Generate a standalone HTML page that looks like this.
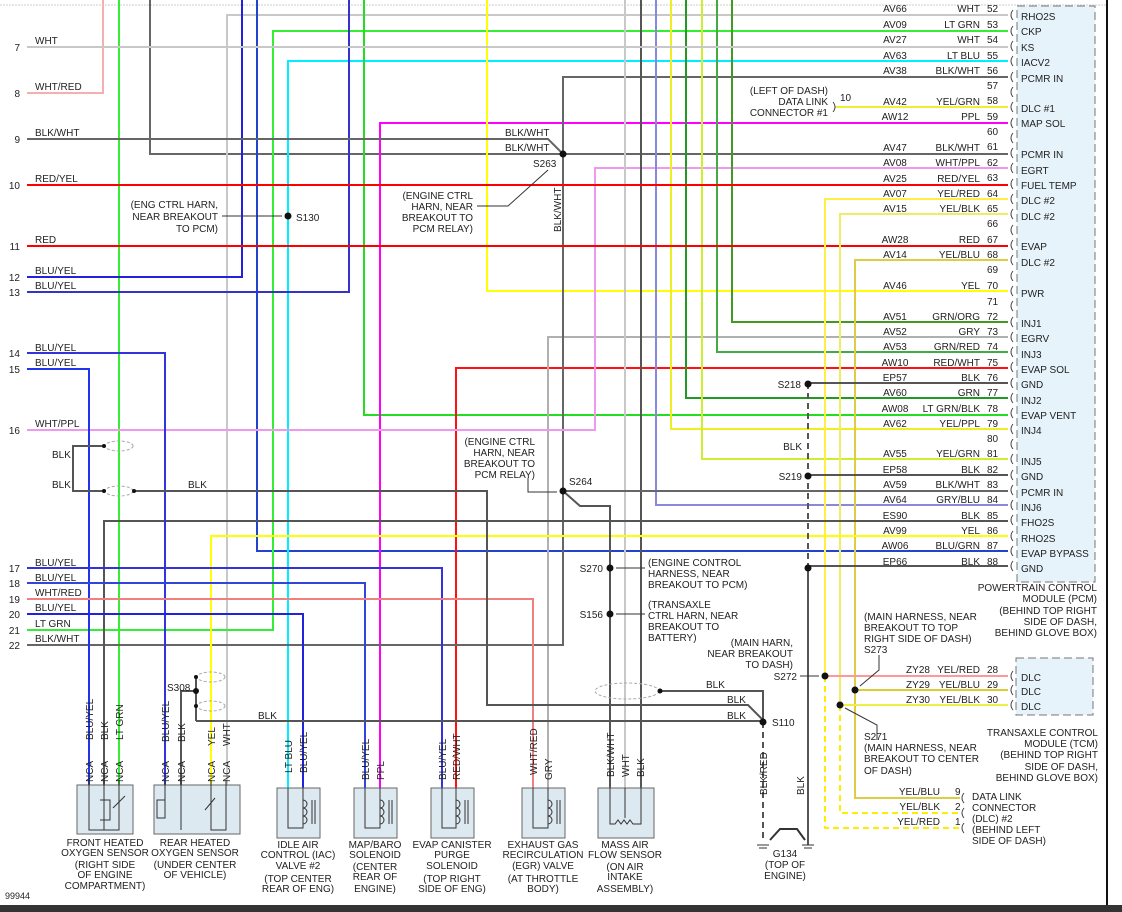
<!DOCTYPE html>
<html><head><meta charset="utf-8"><style>
html,body{margin:0;padding:0;background:#fff}
svg{display:block}
text{font-family:"Liberation Sans",Arial,sans-serif;font-size:10px;fill:#222}
.r{text-anchor:end}.m{text-anchor:middle}
</style></head><body>
<svg width="1122" height="912" viewBox="0 0 1122 912" xmlns="http://www.w3.org/2000/svg">
<rect width="1122" height="912" fill="#fff"/>
<line x1="0" y1="5" x2="1107" y2="5" stroke="#ccc" stroke-dasharray="2,1"/>
<!-- PCM box -->
<rect x="1017" y="6" width="78" height="576" fill="#e6f3fa" stroke="#777" stroke-dasharray="8,4"/>
<line x1="1107" y1="0" x2="1107" y2="905" stroke="#111" stroke-width="2"/>
<rect x="0" y="905" width="1122" height="7" fill="#333"/>
<g fill="none" stroke-width="2">
<!-- verticals from top -->
<polyline points="103,0 103,93 27,93" stroke="#f4b0b0"/>
<polyline points="119,0 119,785" stroke="#33ee33"/>
<polyline points="150,0 150,154 1008,154" stroke="#666"/>
<polyline points="1008,15 227,15 227,785" stroke="#c8c8c8"/>
<polyline points="242,0 242,277 27,277" stroke="#2222dd"/>
<polyline points="257,0 257,551 1008,551" stroke="#2244cc"/>
<polyline points="1008,31 273,31 273,630 27,630" stroke="#33ee33"/>
<polyline points="1008,61 288,61 288,788" stroke="#00eeff"/>
<polyline points="349,0 349,292 27,292" stroke="#3333cc"/>
<polyline points="364,0 364,415 1008,415" stroke="#22dd22"/>
<polyline points="1008,123 380,123 380,788" stroke="#ff00ff"/>
<polyline points="1008,368 456,368 456,788" stroke="#ff1111"/>
<polyline points="1008,337 548,337 548,788" stroke="#b0b0b0"/>
<polyline points="487,0 487,291 1008,291" stroke="#ffff00"/>
<polyline points="1008,77 563,77 563,645 27,645" stroke="#666"/>
<polyline points="1008,168 595,168 595,430 27,430" stroke="#ee99ee"/>
<polyline points="625,0 625,788" stroke="#c8c8c8"/>
<polyline points="641,0 641,788" stroke="#555"/>
<polyline points="656,0 656,505 1008,505" stroke="#8888dd"/>
<polyline points="671,0 671,429 1008,429" stroke="#eeee22"/>
<polyline points="686,0 686,398 1008,398" stroke="#229922"/>
<polyline points="702,0 702,459 1008,459" stroke="#ccee33"/>
<polyline points="717,0 717,352 1008,352" stroke="#44aa44"/>
<polyline points="732,0 732,322 1008,322" stroke="#449922"/>
<polyline points="27,47 1008,47" stroke="#c8c8c8"/>
<polyline points="27,139 548,139 563,154" stroke="#666"/>
<polyline points="27,185 1008,185" stroke="#ff0000"/>
<polyline points="27,246 1008,246" stroke="#ff0000"/>
<polyline points="835,107 1008,107" stroke="#eeee33"/>
<polyline points="1008,199 825,199 825,676" stroke="#ffee44"/>
<polyline points="1008,214 840,214 840,705" stroke="#eeee66"/>
<polyline points="1008,260 855,260 855,798 960,798" stroke="#ddcc44"/>
<polyline points="808,383 1008,383" stroke="#555"/>
<polyline points="808,475 1008,475" stroke="#555"/>
<polyline points="563,491 1008,491" stroke="#666"/>
<polyline points="808,566 1008,566" stroke="#555"/>
<polyline points="1008,521 104,521 104,785" stroke="#555"/>
<polyline points="1008,536 211,536 211,785" stroke="#ffff00"/>
<polyline points="27,353 165,353 165,785" stroke="#3333dd"/>
<polyline points="27,369 89,369 89,785" stroke="#2233ee"/>
<polyline points="27,568 442,568 442,788" stroke="#3333dd"/>
<polyline points="27,583 365,583 365,788" stroke="#3344dd"/>
<polyline points="27,599 533,599 533,788" stroke="#f08080"/>
<polyline points="27,614 303,614 303,788" stroke="#2222dd"/>
<polyline points="563,491 580,506 610,506 610,788" stroke="#555"/>
<polyline points="134,491 487,491 487,705 748,705 763,720" stroke="#555"/>
<polyline points="660,691 763,691 763,722" stroke="#555"/>
<polyline points="196,721 763,721" stroke="#555"/>
<polyline points="196,677 196,721" stroke="#555"/>
<polyline points="181,785 181,691 196,691" stroke="#555"/>
<polyline points="104,446 73,446 73,491 104,491" stroke="#555"/>
<polyline points="808,566 808,845" stroke="#555"/>
<polyline points="825,676 1008,676" stroke="#ff9999"/>
<polyline points="855,690 1008,690" stroke="#ddcc33"/>
<polyline points="840,705 1008,705" stroke="#eeee44"/>
</g>
<g fill="none" stroke-width="2" stroke-dasharray="6,4">
<polyline points="808,383 808,566" stroke="#555"/>
<polyline points="763,722 763,840" stroke="#555"/>
<polyline points="825,676 825,828 960,828" stroke="#ffee00"/>
<polyline points="840,705 840,813 960,813" stroke="#ffee00"/>
</g>
<!-- ground -->
<polyline points="770,840 780,829 797,829 805,840" fill="none" stroke="#333" stroke-width="2"/>
<g stroke="#333"><line x1="757" y1="845" x2="769" y2="845"/><line x1="759" y1="848" x2="767" y2="848"/><line x1="802" y1="845" x2="814" y2="845"/><line x1="804" y1="848" x2="812" y2="848"/></g>
<!-- shields -->
<g fill="none" stroke="#aaa" stroke-dasharray="3,2">
<ellipse cx="119" cy="446" rx="14" ry="5"/><ellipse cx="119" cy="491" rx="14" ry="5"/>
<ellipse cx="211" cy="677" rx="14" ry="5"/><ellipse cx="211" cy="706" rx="14" ry="5"/>
<ellipse cx="627" cy="691" rx="32" ry="8"/>
</g>
<!-- dots -->
<g fill="#111">
<circle cx="288" cy="216" r="3.5"/><circle cx="563" cy="154" r="3.5"/><circle cx="563" cy="491" r="3.5"/>
<circle cx="610" cy="568" r="3.5"/><circle cx="610" cy="614" r="3.5"/><circle cx="808" cy="384" r="3.5"/>
<circle cx="808" cy="476" r="3.5"/><circle cx="808" cy="568" r="3.5"/><circle cx="763" cy="722" r="3.5"/>
<circle cx="825" cy="676" r="3.5"/><circle cx="855" cy="690" r="3.5"/><circle cx="840" cy="705" r="3.5"/>
<circle cx="196" cy="691" r="3"/><circle cx="196" cy="677" r="2"/><circle cx="196" cy="706" r="2"/>
<circle cx="104" cy="446" r="2"/><circle cx="104" cy="491" r="2"/><circle cx="134" cy="491" r="2"/><circle cx="660" cy="691" r="2.5"/>
</g>
<!-- arrows -->
<g stroke="#333" fill="none">
<polyline points="222,216 282,216"/><polyline points="477,206 508,206 548,170"/>
<polyline points="528,478 528,492 557,492"/><polyline points="645,568 616,568"/><polyline points="645,614 616,614"/>
<polyline points="800,676 819,676"/><polyline points="879,655 879,670 860,686"/><polyline points="877,740 877,725 845,708"/>
</g>
<!-- PCM connectors & labels -->
<g fill="none" stroke="#444">
<path d="M1013,10 q-4,5 0,10 M1013,26 q-4,5 0,10 M1013,41 q-4,5 0,10 M1013,56 q-4,5 0,10 M1013,72 q-4,5 0,10 M1013,87 q-4,5 0,10 M1013,102 q-4,5 0,10 M1013,118 q-4,5 0,10 M1013,133 q-4,5 0,10 M1013,148 q-4,5 0,10 M1013,163 q-4,5 0,10 M1013,179 q-4,5 0,10 M1013,194 q-4,5 0,10 M1013,209 q-4,5 0,10 M1013,225 q-4,5 0,10 M1013,240 q-4,5 0,10 M1013,255 q-4,5 0,10 M1013,271 q-4,5 0,10 M1013,286 q-4,5 0,10 M1013,301 q-4,5 0,10 M1013,317 q-4,5 0,10 M1013,332 q-4,5 0,10 M1013,347 q-4,5 0,10 M1013,362 q-4,5 0,10 M1013,378 q-4,5 0,10 M1013,393 q-4,5 0,10 M1013,408 q-4,5 0,10 M1013,424 q-4,5 0,10 M1013,439 q-4,5 0,10 M1013,454 q-4,5 0,10 M1013,470 q-4,5 0,10 M1013,485 q-4,5 0,10 M1013,500 q-4,5 0,10 M1013,515 q-4,5 0,10 M1013,531 q-4,5 0,10 M1013,546 q-4,5 0,10 M1013,561 q-4,5 0,10"/>
<path d="M1013,671 q-4,5 0,10 M1013,685 q-4,5 0,10 M1013,700 q-4,5 0,10 M964,793 q-4,5 0,10 M964,808 q-4,5 0,10 M964,823 q-4,5 0,10 M833,102 q4,5 0,10"/>
</g>
<rect x="1016" y="658" width="77" height="57" fill="#e6f3fa" stroke="#777" stroke-dasharray="8,4"/>
<g>
<text x="895" y="12" class="m">AV66</text><text x="980" y="12" class="r">WHT</text><text x="987" y="12">52</text><text x="1021" y="20">RHO2S</text>
<text x="895" y="28" class="m">AV09</text><text x="980" y="28" class="r">LT GRN</text><text x="987" y="28">53</text><text x="1021" y="35">CKP</text>
<text x="895" y="43" class="m">AV27</text><text x="980" y="43" class="r">WHT</text><text x="987" y="43">54</text><text x="1021" y="51">KS</text>
<text x="895" y="59" class="m">AV63</text><text x="980" y="59" class="r">LT BLU</text><text x="987" y="59">55</text><text x="1021" y="66">IACV2</text>
<text x="895" y="74" class="m">AV38</text><text x="980" y="74" class="r">BLK/WHT</text><text x="987" y="74">56</text><text x="1021" y="82">PCMR IN</text>
<text x="987" y="89">57</text>
<text x="895" y="105" class="m">AV42</text><text x="980" y="105" class="r">YEL/GRN</text><text x="987" y="104">58</text><text x="1021" y="112">DLC #1</text>
<text x="895" y="120" class="m">AW12</text><text x="980" y="120" class="r">PPL</text><text x="987" y="120">59</text><text x="1021" y="127">MAP SOL</text>
<text x="987" y="135">60</text>
<text x="895" y="151" class="m">AV47</text><text x="980" y="151" class="r">BLK/WHT</text><text x="987" y="150">61</text><text x="1021" y="158">PCMR IN</text>
<text x="895" y="166" class="m">AV08</text><text x="980" y="166" class="r">WHT/PPL</text><text x="987" y="166">62</text><text x="1021" y="174">EGRT</text>
<text x="895" y="182" class="m">AV25</text><text x="980" y="182" class="r">RED/YEL</text><text x="987" y="181">63</text><text x="1021" y="189">FUEL TEMP</text>
<text x="895" y="197" class="m">AV07</text><text x="980" y="197" class="r">YEL/RED</text><text x="987" y="197">64</text><text x="1021" y="204">DLC #2</text>
<text x="895" y="212" class="m">AV15</text><text x="980" y="212" class="r">YEL/BLK</text><text x="987" y="212">65</text><text x="1021" y="220">DLC #2</text>
<text x="987" y="227">66</text>
<text x="895" y="243" class="m">AW28</text><text x="980" y="243" class="r">RED</text><text x="987" y="243">67</text><text x="1021" y="250">EVAP</text>
<text x="895" y="258" class="m">AV14</text><text x="980" y="258" class="r">YEL/BLU</text><text x="987" y="258">68</text><text x="1021" y="266">DLC #2</text>
<text x="987" y="273">69</text>
<text x="895" y="289" class="m">AV46</text><text x="980" y="289" class="r">YEL</text><text x="987" y="289">70</text><text x="1021" y="297">PWR</text>
<text x="987" y="305">71</text>
<text x="895" y="320" class="m">AV51</text><text x="980" y="320" class="r">GRN/ORG</text><text x="987" y="320">72</text><text x="1021" y="327">INJ1</text>
<text x="895" y="335" class="m">AV52</text><text x="980" y="335" class="r">GRY</text><text x="987" y="335">73</text><text x="1021" y="342">EGRV</text>
<text x="895" y="350" class="m">AV53</text><text x="980" y="350" class="r">GRN/RED</text><text x="987" y="350">74</text><text x="1021" y="358">INJ3</text>
<text x="895" y="366" class="m">AW10</text><text x="980" y="366" class="r">RED/WHT</text><text x="987" y="366">75</text><text x="1021" y="373">EVAP SOL</text>
<text x="895" y="381" class="m">EP57</text><text x="980" y="381" class="r">BLK</text><text x="987" y="381">76</text><text x="1021" y="388">GND</text>
<text x="895" y="396" class="m">AV60</text><text x="980" y="396" class="r">GRN</text><text x="987" y="396">77</text><text x="1021" y="404">INJ2</text>
<text x="895" y="412" class="m">AW08</text><text x="980" y="412" class="r">LT GRN/BLK</text><text x="987" y="412">78</text><text x="1021" y="419">EVAP VENT</text>
<text x="895" y="427" class="m">AV62</text><text x="980" y="427" class="r">YEL/PPL</text><text x="987" y="427">79</text><text x="1021" y="434">INJ4</text>
<text x="987" y="442">80</text>
<text x="895" y="457" class="m">AV55</text><text x="980" y="457" class="r">YEL/GRN</text><text x="987" y="457">81</text><text x="1021" y="465">INJ5</text>
<text x="895" y="473" class="m">EP58</text><text x="980" y="473" class="r">BLK</text><text x="987" y="473">82</text><text x="1021" y="480">GND</text>
<text x="895" y="488" class="m">AV59</text><text x="980" y="488" class="r">BLK/WHT</text><text x="987" y="488">83</text><text x="1021" y="496">PCMR IN</text>
<text x="895" y="503" class="m">AV64</text><text x="980" y="503" class="r">GRY/BLU</text><text x="987" y="503">84</text><text x="1021" y="511">INJ6</text>
<text x="895" y="519" class="m">ES90</text><text x="980" y="519" class="r">BLK</text><text x="987" y="519">85</text><text x="1021" y="526">FHO2S</text>
<text x="895" y="534" class="m">AV99</text><text x="980" y="534" class="r">YEL</text><text x="987" y="534">86</text><text x="1021" y="542">RHO2S</text>
<text x="895" y="549" class="m">AW06</text><text x="980" y="549" class="r">BLU/GRN</text><text x="987" y="549">87</text><text x="1021" y="557">EVAP BYPASS</text>
<text x="895" y="565" class="m">EP66</text><text x="980" y="565" class="r">BLK</text><text x="987" y="565">88</text><text x="1021" y="572">GND</text>
<!-- left pins -->
<text x="20" y="51" class="r">7</text><text x="35" y="44">WHT</text>
<text x="20" y="97" class="r">8</text><text x="35" y="90">WHT/RED</text>
<text x="20" y="143" class="r">9</text><text x="35" y="136">BLK/WHT</text>
<text x="20" y="189" class="r">10</text><text x="35" y="182">RED/YEL</text>
<text x="20" y="250" class="r">11</text><text x="35" y="243">RED</text>
<text x="20" y="281" class="r">12</text><text x="35" y="274">BLU/YEL</text>
<text x="20" y="296" class="r">13</text><text x="35" y="289">BLU/YEL</text>
<text x="20" y="357" class="r">14</text><text x="35" y="351">BLU/YEL</text>
<text x="20" y="373" class="r">15</text><text x="35" y="366">BLU/YEL</text>
<text x="20" y="434" class="r">16</text><text x="35" y="427">WHT/PPL</text>
<text x="20" y="572" class="r">17</text><text x="35" y="566">BLU/YEL</text>
<text x="20" y="587" class="r">18</text><text x="35" y="581">BLU/YEL</text>
<text x="20" y="603" class="r">19</text><text x="35" y="596">WHT/RED</text>
<text x="20" y="618" class="r">20</text><text x="35" y="611">BLU/YEL</text>
<text x="20" y="634" class="r">21</text><text x="35" y="627">LT GRN</text>
<text x="20" y="649" class="r">22</text><text x="35" y="642">BLK/WHT</text>
<text x="52" y="458">BLK</text><text x="52" y="488">BLK</text><text x="188" y="488">BLK</text>
<!-- callouts -->
<text x="218" y="208" class="r">(ENG CTRL HARN,</text><text x="218" y="220" class="r">NEAR BREAKOUT</text><text x="218" y="232" class="r">TO PCM)</text><text x="296" y="221">S130</text>
<text x="505" y="136">BLK/WHT</text><text x="505" y="151">BLK/WHT</text><text x="533" y="167">S263</text>
<text x="473" y="199" class="r">(ENGINE CTRL</text><text x="473" y="210" class="r">HARN, NEAR</text><text x="473" y="221" class="r">BREAKOUT TO</text><text x="473" y="232" class="r">PCM RELAY)</text>
<text x="561" y="232" transform="rotate(-90 561 232)">BLK/WHT</text>
<text x="535" y="445" class="r">(ENGINE CTRL</text><text x="535" y="456" class="r">HARN, NEAR</text><text x="535" y="467" class="r">BREAKOUT TO</text><text x="535" y="478" class="r">PCM RELAY)</text><text x="569" y="485">S264</text>
<text x="603" y="572" class="r">S270</text><text x="648" y="566">(ENGINE CONTROL</text><text x="648" y="577">HARNESS, NEAR</text><text x="648" y="588">BREAKOUT TO PCM)</text>
<text x="603" y="618" class="r">S156</text><text x="648" y="608">(TRANSAXLE</text><text x="648" y="619">CTRL HARN, NEAR</text><text x="648" y="630">BREAKOUT TO</text><text x="648" y="641">BATTERY)</text>
<text x="828" y="94" class="r">(LEFT OF DASH)</text><text x="828" y="105" class="r">DATA LINK</text><text x="828" y="116" class="r">CONNECTOR #1</text><text x="840" y="101">10</text>
<text x="801" y="388" class="r">S218</text><text x="802" y="480" class="r">S219</text><text x="802" y="450" class="r">BLK</text>
<text x="1097" y="591" class="r">POWERTRAIN CONTROL</text><text x="1097" y="602" class="r">MODULE (PCM)</text><text x="1097" y="614" class="r">(BEHIND TOP RIGHT</text><text x="1097" y="625" class="r">SIDE OF DASH,</text><text x="1097" y="636" class="r">BEHIND GLOVE BOX)</text>
<text x="864" y="620">(MAIN HARNESS, NEAR</text><text x="864" y="631">BREAKOUT TO TOP</text><text x="864" y="642">RIGHT SIDE OF DASH)</text><text x="864" y="653">S273</text>
<text x="793" y="646" class="r">(MAIN HARN,</text><text x="793" y="657" class="r">NEAR BREAKOUT</text><text x="793" y="668" class="r">TO DASH)</text><text x="797" y="680" class="r">S272</text>
<text x="918" y="673" class="m">ZY28</text><text x="980" y="673" class="r">YEL/RED</text><text x="987" y="673">28</text><text x="1021" y="681">DLC</text>
<text x="918" y="688" class="m">ZY29</text><text x="980" y="688" class="r">YEL/BLU</text><text x="987" y="688">29</text><text x="1021" y="695">DLC</text>
<text x="918" y="703" class="m">ZY30</text><text x="980" y="703" class="r">YEL/BLK</text><text x="987" y="703">30</text><text x="1021" y="710">DLC</text>
<text x="864" y="740">S271</text><text x="864" y="751">(MAIN HARNESS, NEAR</text><text x="864" y="762">BREAKOUT TO CENTER</text><text x="864" y="774">OF DASH)</text>
<text x="1098" y="736" class="r">TRANSAXLE CONTROL</text><text x="1098" y="747" class="r">MODULE (TCM)</text><text x="1098" y="758" class="r">(BEHIND TOP RIGHT</text><text x="1098" y="770" class="r">SIDE OF DASH,</text><text x="1098" y="781" class="r">BEHIND GLOVE BOX)</text>
<text x="940" y="795" class="r">YEL/BLU</text><text x="955" y="795">9</text><text x="940" y="810" class="r">YEL/BLK</text><text x="955" y="810">2</text><text x="940" y="825" class="r">YEL/RED</text><text x="955" y="825">1</text>
<text x="972" y="800">DATA LINK</text><text x="972" y="811">CONNECTOR</text><text x="972" y="822">(DLC) #2</text><text x="972" y="833">(BEHIND LEFT</text><text x="972" y="844">SIDE OF DASH)</text>
<text x="706" y="688">BLK</text><text x="727" y="703">BLK</text><text x="727" y="719">BLK</text><text x="258" y="719">BLK</text><text x="772" y="726">S110</text>
<text x="767" y="795" transform="rotate(-90 767 795)">BLK/RED</text><text x="804" y="795" transform="rotate(-90 804 795)">BLK</text>
<text x="785" y="857" class="m">G134</text><text x="785" y="868" class="m">(TOP OF</text><text x="785" y="879" class="m">ENGINE)</text>
<text x="167" y="691">S308</text>
<text x="5" y="899" style="font-size:9px">99944</text>
</g>
<!-- components -->
<g fill="#dde9f0" stroke="#666">
<rect x="77" y="785" width="56" height="49"/><rect x="154" y="785" width="86" height="49"/>
<rect x="277" y="788" width="43" height="50"/><rect x="354" y="788" width="43" height="50"/>
<rect x="431" y="788" width="43" height="50"/><rect x="522" y="788" width="43" height="50"/>
<rect x="598" y="788" width="56" height="50"/>
</g>
<g fill="none" stroke="#333">
<path d="M89,780v50h30v-50 M104,780v50 M113,808l12,-12 M100,800h10v20h-10"/>
<path d="M165,780v38h-8v-18h8 M181,780v50 M211,780v50h15v-50 M205,810l10,-12"/>
<path d="M288,788v40h15v-40 M303,800 a4,4 0 0 1 0,8 a4,4 0 0 1 0,8 a4,4 0 0 1 0,8 M312,800v24 M315,800v24"/>
<path d="M365,788v40h15v-40 M380,800 a4,4 0 0 1 0,8 a4,4 0 0 1 0,8 a4,4 0 0 1 0,8 M389,800v24 M392,800v24"/>
<path d="M442,788v40h14v-40 M456,800 a4,4 0 0 1 0,8 a4,4 0 0 1 0,8 a4,4 0 0 1 0,8 M465,800v24 M468,800v24"/>
<path d="M533,788v40h15v-40 M548,800 a4,4 0 0 1 0,8 a4,4 0 0 1 0,8 a4,4 0 0 1 0,8 M557,800v24 M560,800v24"/>
<path d="M610,788v36h5l3,-4 3,4 3,-4 3,4 3,-4 3,4h8v-36 M625,788v30"/>
</g>
<g style="font-size:9px">
<text x="93" y="740" transform="rotate(-90 93 740)">BLU/YEL</text><text x="108" y="740" transform="rotate(-90 108 740)">BLK</text><text x="123" y="740" transform="rotate(-90 123 740)">LT GRN</text>
<text x="93" y="782" transform="rotate(-90 93 782)">NCA</text><text x="108" y="782" transform="rotate(-90 108 782)">NCA</text><text x="123" y="782" transform="rotate(-90 123 782)">NCA</text>
<text x="169" y="742" transform="rotate(-90 169 742)">BLU/YEL</text><text x="185" y="742" transform="rotate(-90 185 742)">BLK</text><text x="215" y="746" transform="rotate(-90 215 746)">YEL</text><text x="230" y="746" transform="rotate(-90 230 746)">WHT</text>
<text x="169" y="782" transform="rotate(-90 169 782)">NCA</text><text x="185" y="782" transform="rotate(-90 185 782)">NCA</text><text x="215" y="782" transform="rotate(-90 215 782)">NCA</text><text x="230" y="782" transform="rotate(-90 230 782)">NCA</text>
<text x="292" y="773" transform="rotate(-90 292 773)">LT BLU</text><text x="307" y="773" transform="rotate(-90 307 773)">BLU/YEL</text>
<text x="369" y="780" transform="rotate(-90 369 780)">BLU/YEL</text><text x="384" y="780" transform="rotate(-90 384 780)">PPL</text>
<text x="446" y="780" transform="rotate(-90 446 780)">BLU/YEL</text><text x="460" y="780" transform="rotate(-90 460 780)">RED/WHT</text>
<text x="537" y="775" transform="rotate(-90 537 775)">WHT/RED</text><text x="552" y="780" transform="rotate(-90 552 780)">GRY</text>
<text x="614" y="777" transform="rotate(-90 614 777)">BLK/WHT</text><text x="629" y="777" transform="rotate(-90 629 777)">WHT</text><text x="644" y="777" transform="rotate(-90 644 777)">BLK</text>
</g>
<g class="m">
<text x="105" y="846" class="m">FRONT HEATED</text><text x="105" y="856" class="m">OXYGEN SENSOR</text><text x="105" y="868" class="m">(RIGHT SIDE</text><text x="105" y="878" class="m">OF ENGINE</text><text x="105" y="889" class="m">COMPARTMENT)</text>
<text x="195" y="846" class="m">REAR HEATED</text><text x="195" y="856" class="m">OXYGEN SENSOR</text><text x="195" y="868" class="m">(UNDER CENTER</text><text x="195" y="878" class="m">OF VEHICLE)</text>
<text x="298" y="848" class="m">IDLE AIR</text><text x="298" y="858" class="m">CONTROL (IAC)</text><text x="298" y="869" class="m">VALVE #2</text><text x="298" y="882" class="m">(TOP CENTER</text><text x="298" y="892" class="m">REAR OF ENG)</text>
<text x="375" y="848" class="m">MAP/BARO</text><text x="375" y="858" class="m">SOLENOID</text><text x="375" y="870" class="m">(CENTER</text><text x="375" y="880" class="m">REAR OF</text><text x="375" y="892" class="m">ENGINE)</text>
<text x="452" y="848" class="m">EVAP CANISTER</text><text x="452" y="858" class="m">PURGE</text><text x="452" y="869" class="m">SOLENOID</text><text x="452" y="882" class="m">(TOP RIGHT</text><text x="452" y="892" class="m">SIDE OF ENG)</text>
<text x="543" y="848" class="m">EXHAUST GAS</text><text x="543" y="858" class="m">RECIRCULATION</text><text x="543" y="869" class="m">(EGR) VALVE</text><text x="543" y="882" class="m">(AT THROTTLE</text><text x="543" y="892" class="m">BODY)</text>
<text x="625" y="848" class="m">MASS AIR</text><text x="625" y="858" class="m">FLOW SENSOR</text><text x="625" y="870" class="m">(ON AIR</text><text x="625" y="880" class="m">INTAKE</text><text x="625" y="892" class="m">ASSEMBLY)</text>
</g>
</svg>
</body></html>
